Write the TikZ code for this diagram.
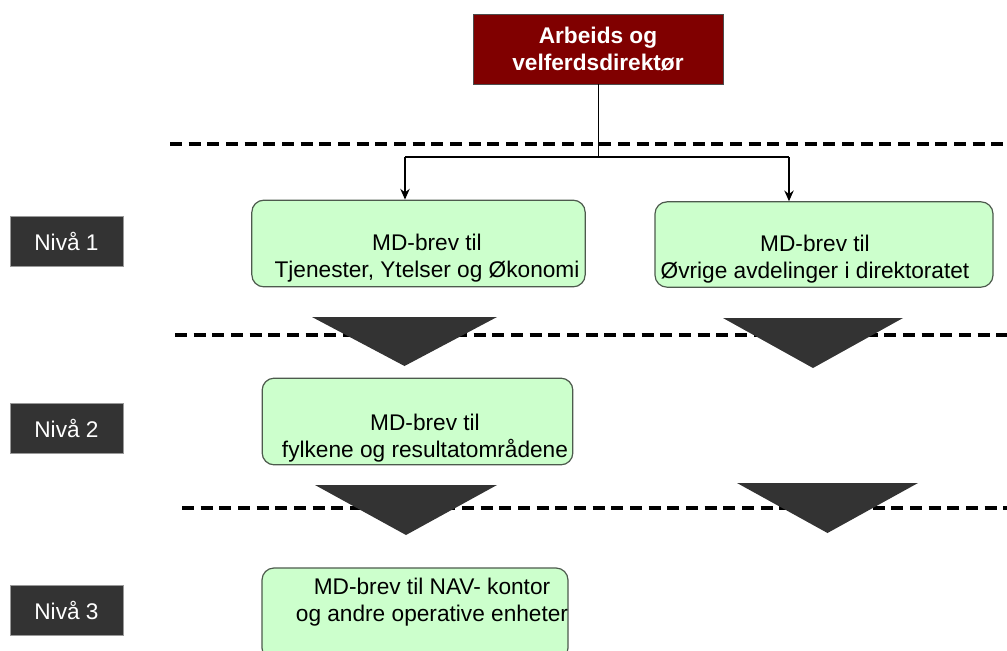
\documentclass[tikz,border=0pt]{standalone}
\usepackage{fontspec}
\setmainfont{Liberation Sans}
\usetikzlibrary{arrows.meta}
\definecolor{direktor}{HTML}{800000}
\definecolor{brevfyll}{HTML}{CCFFCC}
\definecolor{brevkant}{HTML}{4D5A4D}
\definecolor{nivagra}{HTML}{333333}
\begin{document}
\begin{tikzpicture}[x=0.75pt,y=-0.75pt,font=\fontsize{17}{20}\selectfont]
	\tikzset{
		chief/.style={draw=black!70,fill=direktor,text=white,font=\fontsize{17}{20}\selectfont\bfseries,align=center,minimum width=187.5pt,minimum height=52.5pt},
		brev/.style={draw=brevkant,fill=brevfyll,rounded corners=9pt,line width=0.9pt,inner sep=0pt},
		brevtekst/.style={align=center,inner sep=0pt},
		niva/.style={draw=black!40,fill=nivagra,text=white,minimum width=85pt,minimum height=37.5pt},
		skille/.style={line width=3pt,dash pattern=on 9pt off 5pt},
		kile/.style={fill=nivagra},
	}
	\useasboundingbox (0,0) rectangle (1007,650);
	\clip (0,0) rectangle (1007,650);

	\def\skiller {144/170, 335/175, 508/182}  % dashed level separators
	\foreach \y/\x in \skiller
	{	\draw[skille] (\x,\y) -- (1007,\y);
	}
	\def\kiler {312/497/317/366, 723/903/318/368, 315/497/485/535, 737/918/483/533}  % left/right/top/tip
	\foreach \a/\b/\t/\s in \kiler
	{	\fill[kile] (\a,\t) -- (\b,\t) -- ({(\a+\b)/2},\s) -- cycle;
	}

	\node[chief] (dir) at (598,49) {Arbeids og\\velferdsdirektør};

	\node[niva] (n1) at (66.5,241.5) {Nivå 1};
	\node[niva] (n2) at (66.5,428.5) {Nivå 2};
	\node[niva] (n3) at (66.5,610.5) {Nivå 3};

	\def\brever {tyo/418.5/243.5/250pt/65pt, ovr/824/244.5/253.5pt/64pt, fyl/417.5/421.5/233pt/65pt, nav/415/614/229.5pt/69pt}
	\foreach \n/\x/\y/\w/\h in \brever
	{	\node[brev,minimum width=\w,minimum height=\h] (\n) at (\x,\y) {};
	}
	\node[brevtekst] (tyotxt) at (427,258)   {MD-brev til\\Tjenester, Ytelser og Økonomi};
	\node[brevtekst] (ovrtxt) at (815,259)   {MD-brev til\\Øvrige avdelinger i direktoratet};
	\node[brevtekst] (fyltxt) at (425,438)   {MD-brev til\\fylkene og resultatområdene};
	\node[brevtekst] (navtxt) at (432,602)   {MD-brev til NAV- kontor\\og andre operative enheter};

	\coordinate (gren) at (598,157);
	\coordinate (armA) at (405,157);
	\coordinate (armB) at (789,157);
	\draw[line width=0.75pt] (dir) -- (gren);
	\draw[line width=1.5pt] (armA) -- (armB);
	\draw[line width=1.5pt,-{Stealth[length=8pt,width=7pt]}] (armA) -- (armA |- tyo.north);
	\draw[line width=1.5pt,-{Stealth[length=8pt,width=7pt]}] (armB) -- (armB |- ovr.north);
\end{tikzpicture}
\end{document}
